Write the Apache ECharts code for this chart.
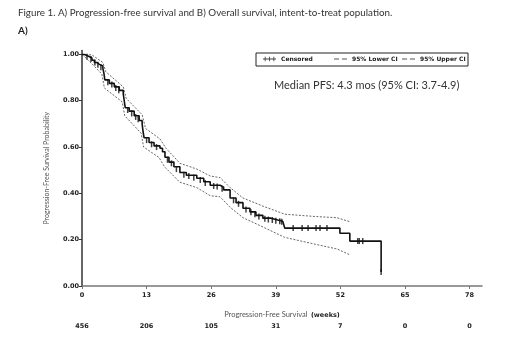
<!DOCTYPE html>
<html><head><meta charset="utf-8">
<script src="https://cdn.jsdelivr.net/npm/echarts@6/dist/echarts.min.js"></script>
<style>html,body{margin:0;padding:0;background:#fff}#c{width:520px;height:340px}</style>
</head><body><div id="c"></div>
<script>
// ---- data ----
const xTicks = [0, 13, 26, 39, 52, 65, 78];
const yTicks = [0, 0.2, 0.4, 0.6, 0.8, 1.0];
const atRisk = [456, 206, 105, 31, 7, 0, 0];

const kmWeeks = [0,0.5,1,1.5,2,2.5,3,3.5,4.2,4.4,4.6,5.5,6.5,7.5,8.3,8.5,8.7,9.5,10.5,11.5,12.1,12.3,12.5,13.5,14.5,15.7,16.2,16.7,17.5,18.5,19.7,21,23.1,24.5,25.8,27.8,28.5,29.8,31,32.4,33.8,35,36.4,38,39.4,40.4,40.8,51.9,53.9,60.2];
const kmSurv  = [1.0,0.995,0.99,0.985,0.975,0.965,0.957,0.95,0.94,0.92,0.89,0.875,0.86,0.845,0.83,0.80,0.77,0.755,0.735,0.715,0.70,0.665,0.64,0.62,0.605,0.595,0.58,0.556,0.535,0.515,0.49,0.478,0.465,0.45,0.435,0.427,0.415,0.38,0.36,0.336,0.32,0.305,0.293,0.285,0.28,0.276,0.25,0.228,0.194,0.06];

const upWeeks = [0,2,4.2,4.8,8.3,8.9,12.1,12.8,15.7,16.9,19.7,23.1,25.8,27.8,29.8,32.4,36.4,40.8,47,51.3,54];
const upSurv  = [1.0,0.998,0.965,0.925,0.86,0.81,0.74,0.68,0.635,0.595,0.53,0.505,0.475,0.468,0.425,0.38,0.345,0.31,0.30,0.295,0.277];

const loWeeks = [0,2,4.0,4.5,8.1,8.6,11.9,12.4,15.5,16.6,19.7,23.1,25.8,27.8,29.8,32.4,36.4,40.8,47,51.3,54];
const loSurv  = [1.0,0.96,0.915,0.855,0.795,0.735,0.66,0.60,0.555,0.515,0.448,0.425,0.39,0.385,0.34,0.295,0.255,0.21,0.18,0.16,0.134];

const censWeeks = [1,1.8,2.6,3.2,3.8,5.2,6,6.8,7.4,9.2,10,10.8,11.3,13,14,15,17.2,18,19,20.5,21.5,22.5,23.8,24.8,26.5,27.2,28.2,30.5,31.5,33,34,34.8,35.6,36.8,37.5,38.3,39,39.8,40.2,42.5,44.3,45.5,47.1,47.9,49.3,55.5,55.8,56.5,60.2];
const censSurv  = [0.99,0.98,0.965,0.955,0.945,0.88,0.87,0.855,0.845,0.76,0.745,0.73,0.72,0.63,0.612,0.60,0.545,0.53,0.505,0.48,0.475,0.468,0.458,0.445,0.432,0.43,0.42,0.37,0.355,0.33,0.318,0.31,0.30,0.29,0.287,0.285,0.282,0.28,0.277,0.25,0.25,0.25,0.25,0.25,0.25,0.194,0.194,0.194,0.06];

const zip = (a, b) => a.map((v, i) => [v, b[i]]);

const chart = echarts.init(document.getElementById('c'), null, {renderer: 'canvas'});
const axisFont = {fontFamily: 'DejaVu Sans', fontWeight: 'bold', fontSize: 6.5, color: '#222'};
const legendText = {fontFamily: 'DejaVu Sans', fontWeight: 'bold', fontSize: 6, color: '#222'};
const dashIcon = 'path://M0,4h9v2h-9z M14,4h9v2h-9z';
const legendBase = {top: 56, padding: 0, itemWidth: 13, itemHeight: 5, itemGap: 4, textStyle: legendText};

chart.setOption({
  animation: false,
  backgroundColor: '#fff',
  title: [
    {text: 'Figure 1. A) Progression-free survival and B) Overall survival, intent-to-treat population.',
     left: 13, top: 3, textStyle: {fontFamily: 'Lato', fontSize: 9.8, fontWeight: 'normal', color: '#333'}},
    {text: 'A)', left: 13, top: 21, textStyle: {fontFamily: 'Lato', fontSize: 10, fontWeight: 'bold', color: '#222'}},
    {text: 'Median PFS: 4.3 mos (95% CI: 3.7-4.9)', left: 269, top: 75,
     textStyle: {fontFamily: 'Lato', fontSize: 11, fontWeight: 'normal', color: '#333'}}
  ],
  graphic: [{type: 'rect', shape: {x: 256, y: 53, width: 212, height: 13},
             style: {fill: 'none', stroke: '#222', lineWidth: 1}}],
  legend: [
    Object.assign({left: 263, data: [{name: 'Censored', icon: 'path://M0,4h30v2h-30z M4,0h2v10h-2z M14,0h2v10h-2z M24,0h2v10h-2z'}]}, legendBase),
    Object.assign({left: 334, data: [{name: '95% Lower CI', icon: dashIcon}]}, legendBase),
    Object.assign({left: 402, data: [{name: '95% Upper CI', icon: dashIcon}]}, legendBase)
  ],
  grid: {left: 82, right: 38, top: 50.5, bottom: 54, containLabel: false},
  xAxis: [{
    type: 'value', min: 0, max: 80.5,
    name: '{n|Progression-Free Survival} {b|(weeks)}', nameLocation: 'middle', nameGap: 23,
    nameTextStyle: {rich: {
      n: {fontFamily: 'Lato', fontSize: 7.5, color: '#555'},
      b: {fontFamily: 'DejaVu Sans', fontWeight: 'bold', fontSize: 6.5, color: '#222'}
    }},
    axisLine: {lineStyle: {color: '#777', width: 1.5}},
    axisTick: {show: true, length: 3, lineStyle: {color: '#777'}, customValues: xTicks},
    axisLabel: Object.assign({margin: 6, customValues: xTicks}, axisFont),
    splitLine: {show: false}
  }, {
    type: 'value', min: 0, max: 80.5, position: 'bottom', offset: 33,
    axisLine: {show: false}, axisTick: {show: false},
    axisLabel: Object.assign({margin: 4, customValues: xTicks,
      formatter: v => String(atRisk[xTicks.indexOf(v)])}, axisFont),
    splitLine: {show: false}
  }],
  yAxis: {
    type: 'value', min: 0, max: 1.017,
    name: 'Progression-Free Survival Probability', nameLocation: 'middle', nameGap: 32, nameRotate: 90,
    nameTextStyle: {fontFamily: 'Lato', fontSize: 7, color: '#555'},
    axisLine: {show: true, lineStyle: {color: '#333', width: 1.5}},
    axisTick: {show: true, length: 3, lineStyle: {color: '#333'}, customValues: yTicks},
    axisLabel: Object.assign({margin: 3, customValues: yTicks, formatter: v => v.toFixed(2)}, axisFont),
    splitLine: {show: false}
  },
  series: [
    {name: '95% Lower CI', type: 'line', data: zip(loWeeks, loSurv), showSymbol: false, symbol: 'none',
     lineStyle: {color: '#555', width: 0.9, type: [2, 1.5]}, itemStyle: {color: '#555'}},
    {name: '95% Upper CI', type: 'line', data: zip(upWeeks, upSurv), showSymbol: false, symbol: 'none',
     lineStyle: {color: '#555', width: 0.9, type: [2, 1.5]}, itemStyle: {color: '#555'}},
    {name: 'KM', type: 'line', data: zip(kmWeeks, kmSurv), showSymbol: false, symbol: 'none', step: 'end',
     lineStyle: {color: '#111', width: 1.6}},
    {name: 'Censored', type: 'scatter', data: zip(censWeeks, censSurv), symbol: 'rect',
     symbolSize: [1.5, 6], itemStyle: {color: '#111'}}
  ]
});
</script></body></html>
